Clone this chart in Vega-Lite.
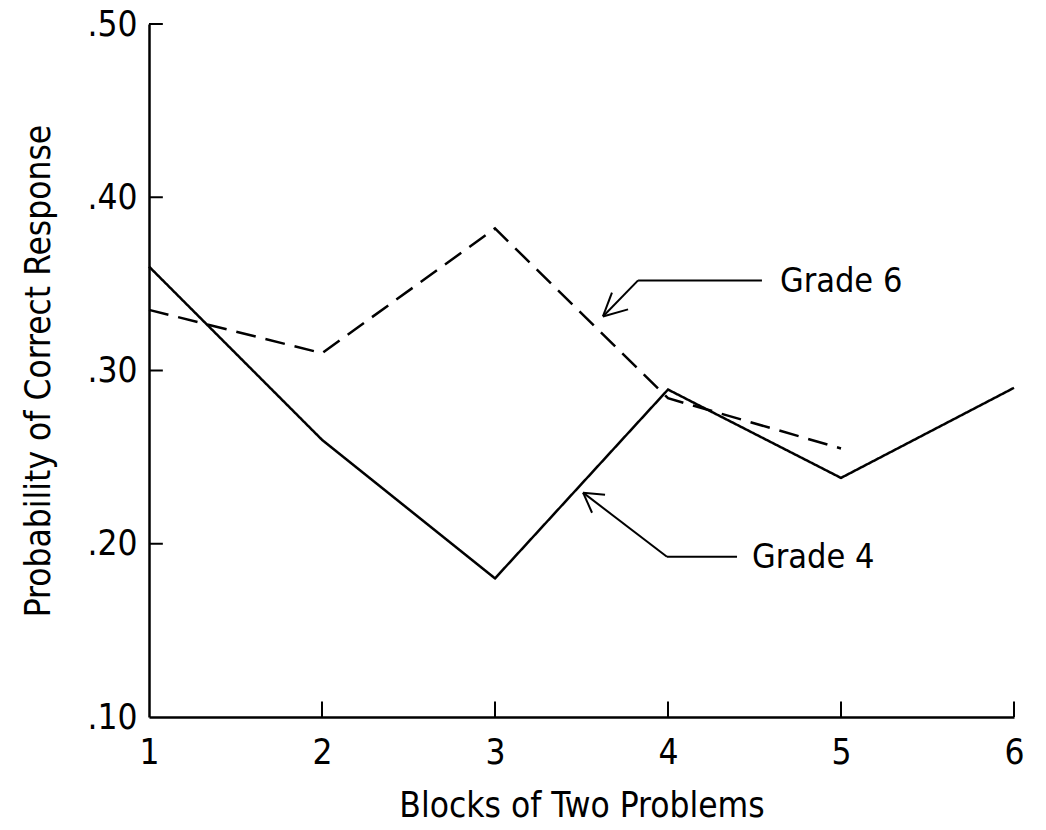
{
  "$schema": "https://vega.github.io/schema/vega-lite/v6.json",
  "autosize": {"type": "none"},
  "padding": {"left": 149, "top": 24, "right": 32, "bottom": 113},
  "width": 865,
  "height": 693,
  "background": "white",
  "config": {
    "view": {"stroke": null},
    "font": "DejaVu Sans Condensed"
  },
  "datasets": {
    "series": [
      {"block": 1, "p": 0.36, "grade": "Grade 4"},
      {"block": 2, "p": 0.26, "grade": "Grade 4"},
      {"block": 3, "p": 0.18, "grade": "Grade 4"},
      {"block": 4, "p": 0.289, "grade": "Grade 4"},
      {"block": 5, "p": 0.238, "grade": "Grade 4"},
      {"block": 6, "p": 0.29, "grade": "Grade 4"},
      {"block": 1, "p": 0.335, "grade": "Grade 6"},
      {"block": 2, "p": 0.31, "grade": "Grade 6"},
      {"block": 3, "p": 0.382, "grade": "Grade 6"},
      {"block": 4, "p": 0.284, "grade": "Grade 6"},
      {"block": 5, "p": 0.255, "grade": "Grade 6"}
    ],
    "arrows": [
      {"x": 3.624, "y": 0.3312, "x2": 3.827, "y2": 0.352},
      {"x": 3.827, "y": 0.352, "x2": 4.543, "y2": 0.352},
      {"x": 3.624, "y": 0.3312, "x2": 3.676, "y2": 0.345},
      {"x": 3.624, "y": 0.3312, "x2": 3.769, "y2": 0.3353},
      {"x": 3.509, "y": 0.2295, "x2": 3.994, "y2": 0.1925},
      {"x": 3.994, "y": 0.1925, "x2": 4.399, "y2": 0.1925},
      {"x": 3.509, "y": 0.2295, "x2": 3.636, "y2": 0.2283},
      {"x": 3.509, "y": 0.2295, "x2": 3.561, "y2": 0.2179}
    ],
    "yticks": [{"v": 0.2}, {"v": 0.3}, {"v": 0.4}, {"v": 0.5}],
    "xticks": [{"b": 2}, {"b": 3}, {"b": 4}, {"b": 5}, {"b": 6}],
    "labels": [
      {"x": 4.647, "y": 0.351, "label": "Grade 6"},
      {"x": 4.486, "y": 0.192, "label": "Grade 4"}
    ]
  },
  "layer": [
    {
      "data": {"name": "series"},
      "mark": {"type": "line", "color": "black", "strokeWidth": 2.5},
      "encoding": {
        "x": {
          "field": "block", "type": "quantitative",
          "scale": {"domain": [1, 6], "nice": false, "zero": false},
          "axis": {
            "title": "Blocks of Two Problems",
            "values": [1, 2, 3, 4, 5, 6],
            "format": "d",
            "grid": false,
            "ticks": false,
            "labelFlush": false,
            "domainColor": "black", "domainWidth": 2.5,
            "labelFont": "DejaVu Sans Condensed", "labelFontSize": 35, "labelColor": "black",
            "labelPadding": 18,
            "titleFont": "DejaVu Sans Condensed", "titleFontSize": 35, "titleFontWeight": "normal", "titleColor": "black",
            "titlePadding": 18
          }
        },
        "y": {
          "field": "p", "type": "quantitative",
          "scale": {"domain": [0.1, 0.5], "nice": false, "zero": false},
          "axis": {
            "title": "Probability of Correct Response",
            "values": [0.1, 0.2, 0.3, 0.4, 0.5],
            "labelExpr": "replace(format(datum.value, '.2f'), '0.', '.')",
            "grid": false,
            "ticks": false,
            "labelFlush": false,
            "domainColor": "black", "domainWidth": 2.5,
            "labelFont": "DejaVu Sans Condensed", "labelFontSize": 35, "labelColor": "black",
            "labelPadding": 12,
            "titleFont": "DejaVu Sans Condensed", "titleFontSize": 35, "titleFontWeight": "normal", "titleColor": "black",
            "titlePadding": 30
          }
        },
        "strokeDash": {
          "field": "grade", "type": "nominal",
          "scale": {"domain": ["Grade 4", "Grade 6"], "range": [[1, 0], [20, 10]]},
          "legend": null
        }
      }
    },
    {
      "data": {"name": "yticks"},
      "mark": {"type": "rule", "color": "black", "strokeWidth": 2},
      "encoding": {
        "y": {"field": "v", "type": "quantitative", "title": "Probability of Correct Response"},
        "x": {"datum": 1},
        "x2": {"datum": 1.08}
      }
    },
    {
      "data": {"name": "xticks"},
      "mark": {"type": "rule", "color": "black", "strokeWidth": 2},
      "encoding": {
        "x": {"field": "b", "type": "quantitative", "title": "Blocks of Two Problems"},
        "y": {"datum": 0.1},
        "y2": {"datum": 0.109}
      }
    },
    {
      "data": {"name": "arrows"},
      "mark": {"type": "rule", "color": "black", "strokeWidth": 2},
      "encoding": {
        "x": {"field": "x", "type": "quantitative", "title": "Blocks of Two Problems"},
        "y": {"field": "y", "type": "quantitative", "title": "Probability of Correct Response"},
        "x2": {"field": "x2"},
        "y2": {"field": "y2"}
      }
    },
    {
      "data": {"name": "labels"},
      "mark": {"type": "text", "align": "left", "baseline": "middle", "font": "DejaVu Sans Condensed", "fontSize": 34, "color": "black"},
      "encoding": {
        "x": {"field": "x", "type": "quantitative", "title": "Blocks of Two Problems"},
        "y": {"field": "y", "type": "quantitative", "title": "Probability of Correct Response"},
        "text": {"field": "label"}
      }
    }
  ]
}
